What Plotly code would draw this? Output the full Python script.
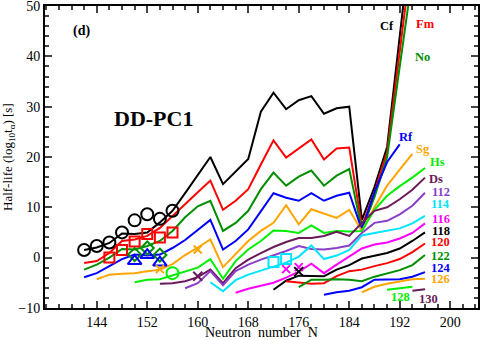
import plotly.graph_objects as go

# 中性子数 N（各系列の開始値、2刻み）と半減期 log10(t) の値
n_cf = list(range(142, 196, 2))
cf = [1.5, 2.0, 2.9, 4.8, 4.7, 5.0, 7.0, 9.3, 12.8, 16.4, 20.0, 14.6, 17.0, 19.6,
      29.0, 32.8, 29.5, 31.3, 32.1, 28.6, 29.7, 30.0, 7.5, 14.0, 22.0, 44.0, 66.0]
n_fm = list(range(142, 196, 2))
fm = [-1.1, -0.7, 0.9, 3.3, 3.6, 4.3, 5.9, 8.3, 10.8, 13.0, 15.3, 9.5, 11.3, 13.6,
      18.5, 23.3, 19.9, 21.7, 23.5, 19.5, 21.7, 21.9, 6.2, 13.0, 21.0, 41.0, 61.0]
n_no = list(range(142, 196, 2))
no = [-2.4, -1.4, 0.0, 1.7, 1.6, 2.3, 3.3, 5.3, 8.0, 10.2, 11.3, 5.3, 6.9, 9.3,
      13.6, 16.9, 14.3, 16.1, 17.3, 14.3, 16.3, 17.6, 5.5, 12.0, 20.0, 38.0, 56.0]
n_rf = list(range(142, 194, 2))
rf = [-3.9, -3.1, -1.7, -0.3, 0.6, 0.4, 0.6, 1.9, 3.5, 5.5, 7.5, 1.6, 3.3, 5.6,
      9.3, 12.8, 11.9, 11.3, 12.8, 11.3, 12.3, 12.9, 5.5, 13.0, 19.0, 22.5]
n_sg = list(range(144, 196, 2))
sg = [-4.3, -3.4, -3.2, -3.1, -2.7, -2.4, -1.3, 0.5, 2.0, 3.6, -1.9, 0.6, 3.3,
      5.3, 6.9, 10.4, 6.6, 9.6, 8.8, 7.9, 9.5, 5.3, 10.0, 14.3, 17.5, 20.6]
n_hs = list(range(150, 198, 2))
hs = [-4.9, -4.4, -4.3, -3.5, -2.8, -2.0, -0.3, -4.2, -0.7, 1.6, 3.3, 5.4, 5.3,
      4.9, 6.4, 4.9, 5.3, 5.2, 5.3, 9.5, 12.3, 14.2, 15.9, 17.8]
n_ds = list(range(154, 198, 2))
ds = [-5.2, -5.1, -4.7, -3.9, -2.4, -5.1, -2.1, -0.4, 0.9, 2.1, 3.1, 3.9, 3.9,
      4.3, 5.1, 4.3, 6.9, 9.3, 10.0, 11.6, 13.5, 15.9]
n_112 = list(range(158, 198, 2))
z112 = [-6.1, -5.1, -2.7, -5.5, -2.7, -1.4, -0.4, 0.4, 1.3, 2.3, 1.7, 1.6, 1.9,
        2.4, 4.9, 6.9, 7.3, 8.6, 10.3, 12.9]
n_114 = list(range(162, 198, 2))
z114 = [-4.9, -6.7, -4.5, -3.4, -2.6, -1.8, -1.0, 0.2, 2.4, -0.3, 0.4, 1.5, 4.4,
        4.9, 5.3, 5.8, 6.8, 8.3]
n_116 = list(range(166, 198, 2))
z116 = [-7.0, -6.2, -5.6, -5.0, -4.0, -2.8, -1.2, -3.1, -1.4, 0.2, 1.8, 2.6, 3.0,
        3.8, 4.9, 6.8]
n_118 = list(range(172, 198, 2))
z118 = [-6.4, -4.6, -3.6, -3.6, -3.7, -2.4, -1.5, -0.2, 0.4, 0.9, 1.8, 3.3, 5.0]
n_120 = list(range(174, 198, 2))
z120 = [-4.7, -4.9, -5.2, -5.1, -3.7, -2.7, -2.4, -1.7, -1.1, -0.3, 1.1, 2.8]
n_122 = list(range(176, 198, 2))
z122 = [-5.9, -4.4, -4.4, -4.3, -4.4, -4.7, -3.8, -3.2, -2.5, -1.5, 0.5]
n_124 = list(range(180, 198, 2))
z124 = [-7.4, -6.9, -6.6, -5.9, -4.4, -4.4, -4.3, -3.8, -2.9]
n_126 = list(range(186, 198, 2))
z126 = [-6.9, -5.8, -5.2, -4.7, -4.3, -4.2]
n_128 = [190, 192, 194]
z128 = [-6.4, -6.1, -5.8]
n_130 = [194, 196]
z130 = [-6.6, -6.3]

# 実験値
exp_cf_n = [142, 144, 146, 148, 150, 152, 154, 156]
exp_cf = [1.5, 2.3, 3.0, 5.0, 7.4, 8.6, 7.7, 9.3]
exp_fm_n = [146, 148, 150, 152, 154, 156]
exp_fm = [0.0, 1.5, 3.2, 4.7, 4.0, 5.0]
exp_no_n = [150, 152, 154]
exp_no = [0.6, 1.9, 0.5]
exp_rf_n = [150, 152, 154]
exp_rf = [-0.7, 0.5, -1.0]
exp_sg_n = [154, 160]
exp_sg = [-2.3, 1.6]
exp_hs_n = [156]
exp_hs = [-3.1]
exp_ds_n = [160]
exp_ds = [-3.7]
exp_114_n = [172, 174]
exp_114 = [-0.9, -0.3]
exp_116_n = [174, 176]
exp_116 = [-2.3, -1.9]
exp_118_n = [176]
exp_118 = [-2.8]

# ラベル（テキスト、N、値）
label_text = ['Cf', 'Fm', 'No', 'Rf', 'Sg', 'Hs', 'Ds', '112', '114', '116',
              '118', '120', '122', '124', '126', '128', '130']
label_n = [190.0, 196.1, 195.6, 193.0, 195.7, 198.0, 197.8, 198.5, 198.5, 198.5,
           198.5, 198.5, 198.5, 198.5, 198.5, 192.1, 196.5]
label_v = [46.0, 46.4, 39.8, 24.0, 21.6, 19.0, 15.6, 13.1, 10.6, 7.7,
           5.3, 3.1, 0.4, -2.1, -4.3, -7.9, -8.3]

x_ticks = [144, 152, 160, 168, 176, 184, 192, 200]
y_ticks = [-10, 0, 10, 20, 30, 40, 50]

BLACK = '#000000'
RED = '#ff0000'
GREEN = '#008f00'
BLUE = '#0000ff'
ORANGE = '#ffa500'
LIME = '#00ee00'
MAROON = '#6a1a5a'
PURPLE = '#8a3fc8'
CYAN = '#00e5ff'
MAGENTA = '#ff00ff'

series = [
    (n_cf, cf, BLACK), (n_fm, fm, RED), (n_no, no, GREEN), (n_rf, rf, BLUE),
    (n_sg, sg, ORANGE), (n_hs, hs, LIME), (n_ds, ds, MAROON), (n_112, z112, PURPLE),
    (n_114, z114, CYAN), (n_116, z116, MAGENTA), (n_118, z118, BLACK),
    (n_120, z120, RED), (n_122, z122, GREEN), (n_124, z124, BLUE),
    (n_126, z126, ORANGE), (n_128, z128, LIME), (n_130, z130, MAROON),
]
label_colors = [BLACK, RED, GREEN, BLUE, ORANGE, LIME, MAROON, PURPLE, CYAN,
                MAGENTA, BLACK, RED, GREEN, BLUE, ORANGE, LIME, MAROON]

exp_sets = [
    (exp_cf_n, exp_cf, BLACK, 'circle-open', 12),
    (exp_fm_n, exp_fm, RED, 'square-open', 10),
    (exp_no_n, exp_no, GREEN, 'diamond-open', 10),
    (exp_rf_n, exp_rf, BLUE, 'triangle-up-open', 12),
    (exp_sg_n, exp_sg, ORANGE, 'x-thin-open', 8),
    (exp_hs_n, exp_hs, LIME, 'circle-open', 12),
    (exp_ds_n, exp_ds, MAROON, 'x-thin-open', 9),
    (exp_114_n, exp_114, CYAN, 'square-open', 10),
    (exp_116_n, exp_116, MAGENTA, 'x-thin-open', 8),
    (exp_118_n, exp_118, BLACK, 'x-thin-open', 9),
]

fig = go.Figure()

for xs, ys, col in series:
    fig.add_trace(go.Scatter(x=xs, y=ys, mode='lines',
                             line=dict(color=col, width=2), showlegend=False))

for xs, ys, col, sym, sz in exp_sets:
    fig.add_trace(go.Scatter(x=xs, y=ys, mode='markers', showlegend=False,
                             marker=dict(symbol=sym, size=sz, color=col,
                                         line=dict(color=col, width=2))))

SERIF = 'Liberation Serif'

for t, xv, yv, col in zip(label_text, label_n, label_v, label_colors):
    fig.add_annotation(x=xv, y=yv, text=f'<b>{t}</b>', showarrow=False,
                       font=dict(family=SERIF, size=12.5, color=col))

fig.add_annotation(x=153, y=27.6, text='<b>DD-PC1</b>', showarrow=False,
                   font=dict(family=SERIF, size=22, color='black'))
fig.add_annotation(x=141.6, y=45, text='<b>(d)</b>', showarrow=False,
                   font=dict(family=SERIF, size=14, color='black'))

# 軸タイトル（位置を固定するため注釈で描く）
fig.add_annotation(xref='paper', yref='paper', x=0.5, y=-24.5 / 302,
                   yanchor='middle', text='Neutron  number  N', showarrow=False,
                   font=dict(family=SERIF, size=14, color='black'))
fig.add_annotation(xref='paper', yref='paper', x=-37 / 433, y=0.5,
                   xanchor='center', textangle=-90,
                   text='Half-life (log<sub>10</sub>t<sub>α</sub>) [s]', showarrow=False,
                   font=dict(family=SERIF, size=13, color='black'))

fig.update_xaxes(range=[135.8, 204.4], tickmode='array', tickvals=x_ticks,
                 ticks='inside', ticklen=7, tickwidth=2,
                 minor=dict(tick0=136, dtick=2, ticks='inside', ticklen=4, tickwidth=1.5),
                 showline=True, linewidth=2, linecolor='black', mirror='allticks',
                 showgrid=False, zeroline=False, automargin=False,
                 ticklabeloverflow='allow',
                 tickfont=dict(family=SERIF, size=14, color='black'))

fig.update_yaxes(range=[-10.03, 50.03], tickmode='array', tickvals=y_ticks,
                 ticks='inside', ticklen=7, tickwidth=2,
                 minor=dict(tick0=0, dtick=2, ticks='inside', ticklen=4, tickwidth=1.5),
                 showline=True, linewidth=2, linecolor='black', mirror='allticks',
                 showgrid=False, zeroline=False, automargin=False,
                 ticklabeloverflow='allow',
                 tickfont=dict(family=SERIF, size=14, color='black'))

fig.update_layout(width=480, height=340, plot_bgcolor='white', paper_bgcolor='white',
                  margin=dict(l=45, r=2, t=6, b=32), showlegend=False)

# ページ既定の余白を消して図を左上に合わせる
fig.write_html("out.html", config={'displayModeBar': False},
               post_script="document.body.style.margin='0';")
